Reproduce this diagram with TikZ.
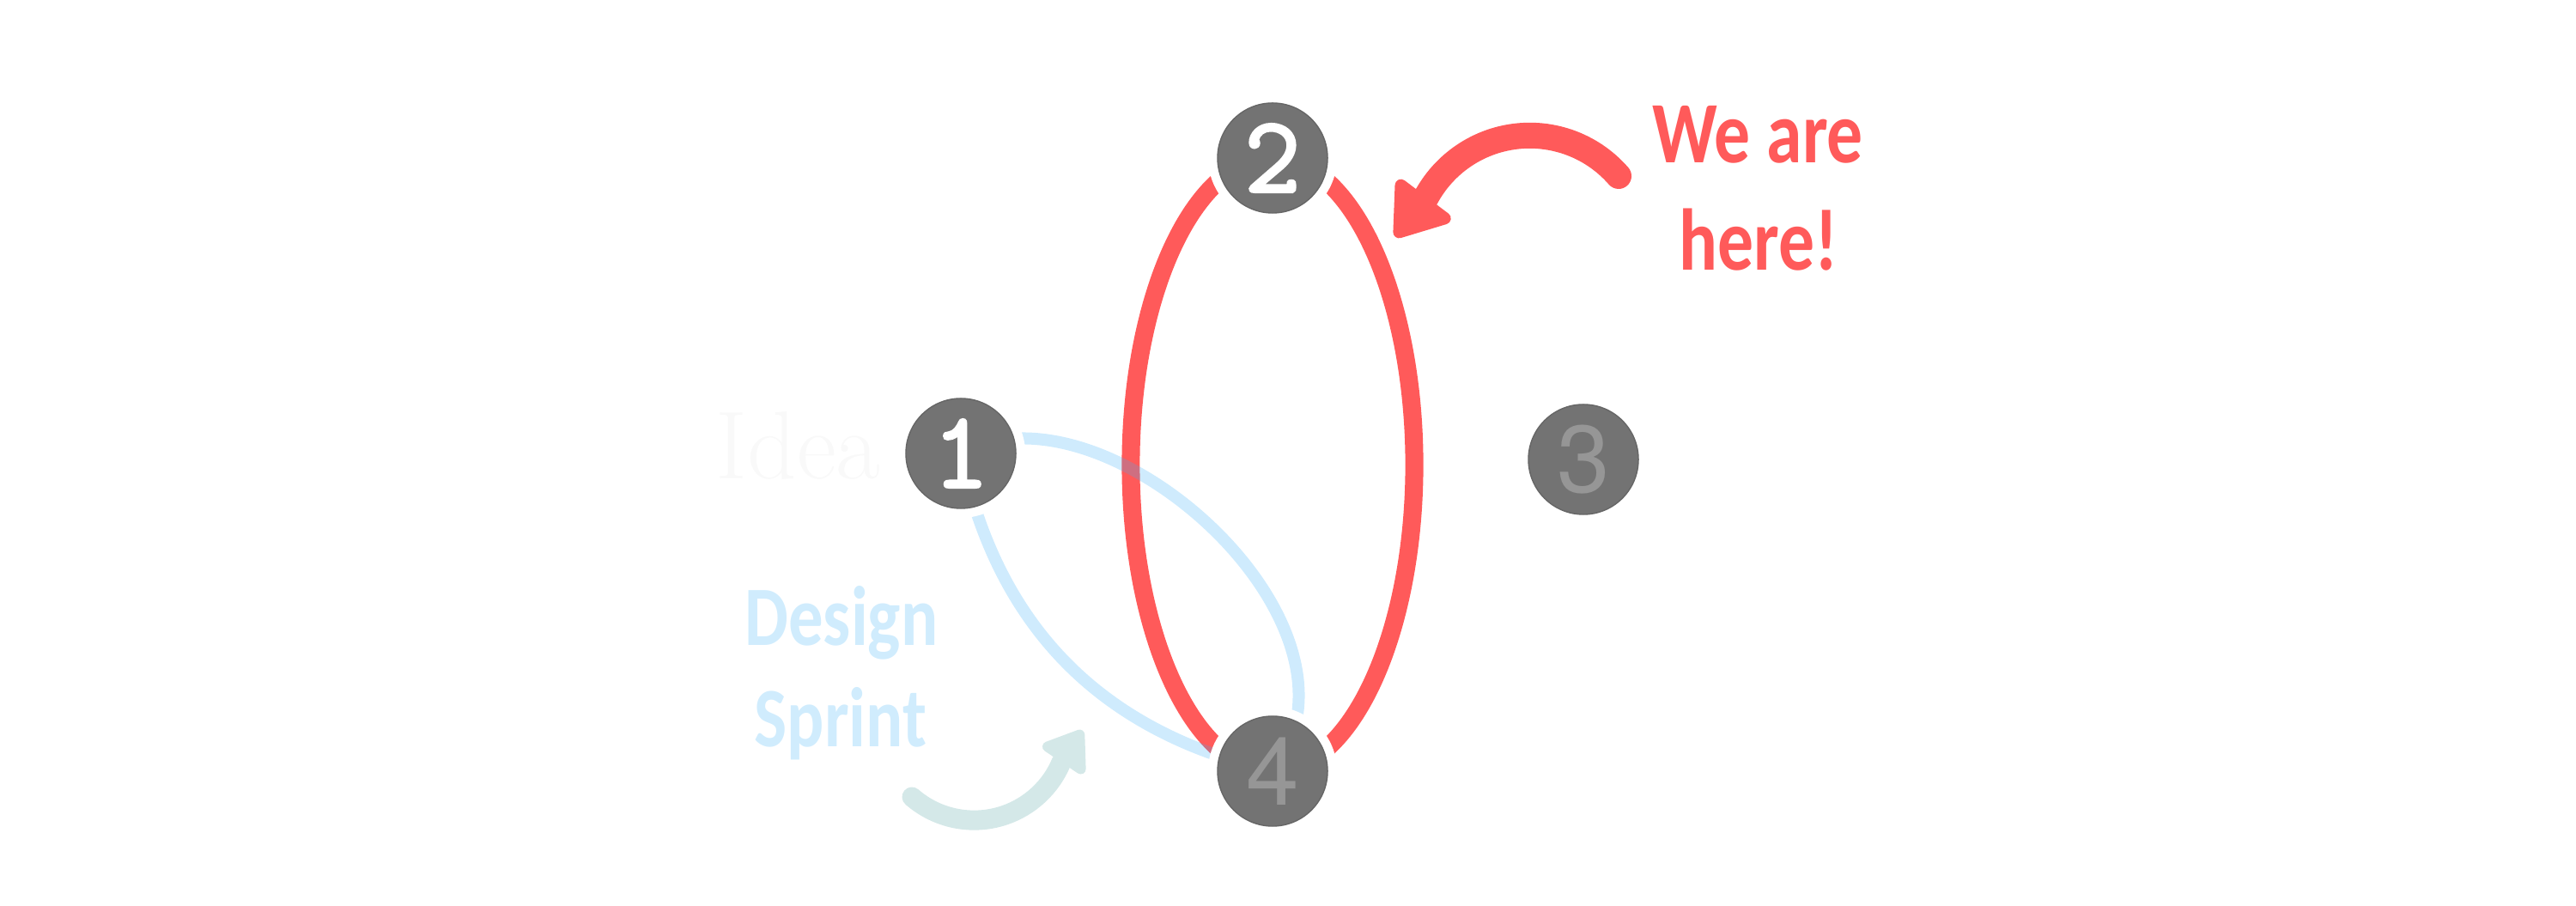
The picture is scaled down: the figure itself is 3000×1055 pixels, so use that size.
\documentclass[tikz,border=0pt]{standalone}
\usepackage{fontspec}
\newfontfamily\handfont[FakeStretch=0.82]{Carlito}
\newfontfamily\herosfont{TeX Gyre Heros}
\newfontfamily\stagefont[FakeBold=2.5]{Latin Modern Mono}
\definecolor{hered}{HTML}{FF5A5A}
\definecolor{nodegray}{HTML}{737373}
\definecolor{nodeedge}{HTML}{666666}
\definecolor{digitgray}{HTML}{969696}
\definecolor{loopblue}{RGB}{63,177,247}
\definecolor{labelblue}{HTML}{D0ECFD}
\definecolor{tealgray}{HTML}{D4E8E8}
\definecolor{ideagray}{HTML}{F9F9F9}
\begin{document}
\begin{tikzpicture}[x=0.01cm,y=0.01cm,
  stage/.style={circle, minimum size=1.28cm, inner sep=0pt, fill=nodegray,
    draw=nodeedge, line width=0.4pt,
    preaction={draw=white, line width=0.22cm}},
  whitedigit/.style={text=white, font=\stagefont\fontsize{36}{42}\selectfont},
  greydigit/.style={text=digitgray, font=\herosfont\fontsize{31.5}{38}\selectfont},
  redloop/.style={draw=hered, line width=0.21cm},
  blueloop/.style={draw=loopblue, draw opacity=0.25, line width=0.14cm},
  redlabel/.style={text=hered, inner sep=0pt, anchor=base,
    font=\handfont\bfseries\fontsize{29}{35}\selectfont},
  bluelabel/.style={text=labelblue, inner sep=0pt, anchor=base,
    font=\handfont\bfseries\fontsize{28}{34}\selectfont}]
\useasboundingbox (0,0) rectangle (3000,1055);

% stage positions
\coordinate (p1) at (1119,527);
\coordinate (p2) at (1482,871);
\coordinate (p3) at (1844,520);
\coordinate (p4) at (1482,157);

% red loop between stages 2 and 4
\draw[redloop] (p2) arc[start angle=90, end angle=270, x radius=1.65cm, y radius=3.57cm];
\draw[redloop] (p2) arc[start angle=90, end angle=-90, x radius=1.65cm, y radius=3.57cm];

% blue loop between stages 1 and 4
\draw[blueloop] (p1) .. controls (1287.4,619.6) and (1613.6,322.8) .. (p4);
\draw[blueloop] (p1) .. controls (1160.8,326.0) and (1281.8,202.7) .. (p4);

% "we are here" pointer
\coordinate (redtail) at (1885,850);
\draw[hered, line width=0.3cm, line cap=round] (redtail) arc[start angle=41, end angle=151.6, radius=1.371cm];
\filldraw[hered, line width=0.14cm, line join=round] (1631.5,839.3) -- (1682.7,800.7) -- (1629.4,784.6) -- cycle;

% "design sprint" pointer
\coordinate (tealtail) at (1062,127);
\draw[tealgray, line width=0.23cm, line cap=round] (tealtail) arc[start angle=228.9, end angle=337.3, radius=1.101cm];
\filldraw[tealgray, line width=0.12cm, line join=round] (1220.0,185.5) -- (1258.6,159.5) -- (1257.3,199.4) -- cycle;

% labels
\node[redlabel] (weare) at (2047,865) {We are};
\node[redlabel] (here) at (2048,740) {here!};
\node[bluelabel] (design) at (980,303) {Design};
\node[bluelabel] (sprint) at (979,185) {Sprint};
\node[text=ideagray, inner sep=0pt, anchor=base west,
  font=\fontsize{32}{38}\selectfont] (idea) at (833,497) {Idea};

% stages
\node[stage, whitedigit] (n1) at (p1) {1};
\node[stage, whitedigit] (n2) at (p2) {2};
\node[stage, greydigit] (n3) at (p3) {3};
\node[stage, greydigit] (n4) at (p4) {4};
\end{tikzpicture}
\end{document}
